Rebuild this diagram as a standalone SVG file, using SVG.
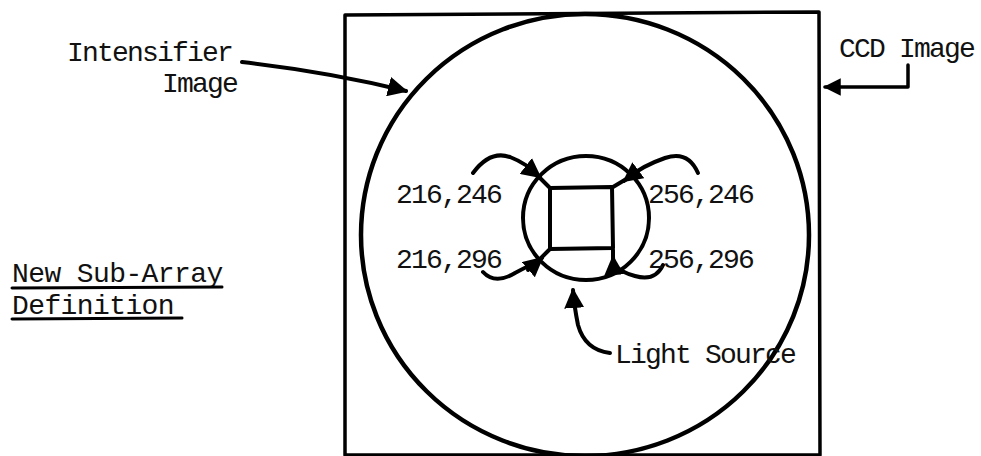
<svg xmlns="http://www.w3.org/2000/svg" width="981" height="456" viewBox="0 0 981 456">
<style>
.t{font-family:"Liberation Mono","DejaVu Sans Mono",monospace;font-size:28px;letter-spacing:-1.8px;fill:#111}
.h{font-family:"Liberation Mono","DejaVu Sans Mono",monospace;font-size:28px;letter-spacing:-0.6px;fill:#111}
.ln{fill:none;stroke:#000;stroke-linecap:round;stroke-linejoin:round}
</style>
<defs>
<marker id="ah" viewBox="0 0 10 10" refX="9" refY="5" markerWidth="5" markerHeight="5" markerUnits="strokeWidth" orient="auto">
<path d="M0,0 L10,5 L0,10 z" fill="#000"/>
</marker>
</defs>
<rect width="981" height="456" fill="#fff"/>
<g id="ccd-frame">
<path class="ln" d="M345,15 L819,12 L820,455 L345,455 Z" stroke-width="3.5"/>
</g>
<g id="intensifier-circle">
<ellipse class="ln" cx="585" cy="235" rx="224" ry="221" stroke-width="4.5"/>
</g>
<g id="light-source">
<ellipse class="ln" cx="586" cy="218" rx="63" ry="62" stroke-width="4"/>
<path class="ln" d="M550,188 L612,187 L613,248 L550,249 Z" stroke-width="4"/>
</g>
<g id="connectors">
<path class="ln" d="M242,62 Q330,72 406,91" stroke-width="4" marker-end="url(#ah)"/>
<path class="ln" d="M908,65 L908,87 L825,87" stroke-width="3.5" marker-end="url(#ah)"/>
<path class="ln" d="M610,353 Q585,350 578,325 Q574,305 573,290" stroke-width="4" marker-end="url(#ah)"/>
<path class="ln" d="M473,173 Q490,150 510,157 Q528,164 538,176 L549,187" stroke-width="4"/>
<path class="ln" d="M531,170 L540,177" stroke-width="4" marker-end="url(#ah)"/>
<path class="ln" d="M698,173 Q688,150 665,158 Q642,166 628,178 L613,187" stroke-width="4"/>
<path class="ln" d="M636,172 L624,181" stroke-width="4" marker-end="url(#ah)"/>
<path class="ln" d="M483,272 Q495,285 515,273 Q528,266 537,262 L549,250" stroke-width="4"/>
<path class="ln" d="M528,270 L542,258" stroke-width="4" marker-end="url(#ah)"/>
<path class="ln" d="M663,265 Q655,282 635,276 Q620,272 613,264 L613,250" stroke-width="4"/>
<path class="ln" d="M614,272 L613,257" stroke-width="4" marker-end="url(#ah)"/>
</g>
<g id="labels">
<text class="t" x="67" y="61">Intensifier</text>
<text class="t" x="162" y="92">Image</text>
<text class="t" x="839" y="57">CCD Image</text>
<text class="t" x="396" y="203">216,246</text>
<text class="t" x="396" y="268">216,296</text>
<text class="t" x="648" y="203">256,246</text>
<text class="t" x="648" y="268">256,296</text>
<text class="t" x="615" y="363">Light Source</text>
</g>
<g id="title">
<text class="h" x="12" y="282">New Sub-Array</text>
<text class="h" x="12" y="314">Definition</text>
<path class="ln" d="M12,288 L222,287 M12,319 L182,318" stroke-width="3"/>
</g>
</svg>
